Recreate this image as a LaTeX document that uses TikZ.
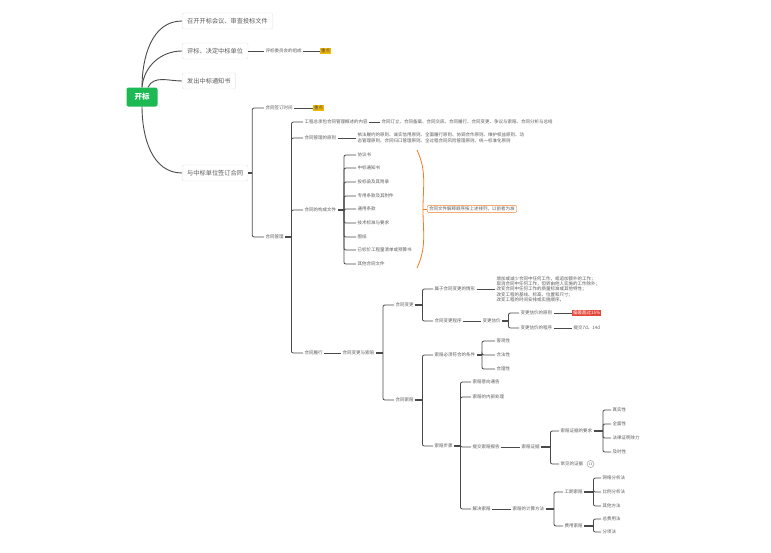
\documentclass[tikz,border=0pt]{standalone}
\usepackage{fontspec}
\setmainfont{Noto Sans CJK SC}
\usetikzlibrary{positioning}
\definecolor{rootgreen}{HTML}{1DB954}
\definecolor{boxgray}{HTML}{E3E3E3}
\definecolor{txtgray}{HTML}{5A5A5A}
\definecolor{linegray}{HTML}{4A4A4A}
\definecolor{tagyellow}{HTML}{F2B705}
\definecolor{tagred}{HTML}{E5483B}
\definecolor{noteorange}{HTML}{F47B20}
\newcommand{\fsmall}{\fontsize{4.5}{5.6}\selectfont}
\newcommand{\fork}[3]{%
  \draw[stub] (#1.east) -- ++(#2,0) coordinate (sp);
  \foreach \ch in {#3} {\draw[link] (sp) |- (\ch.west);}
}
\tikzset{
  root/.style = {fill=rootgreen, rounded corners=2pt, text=white, minimum width=31pt,
    minimum height=19pt, font=\fontsize{7.5}{8}\selectfont\bfseries},
  topic/.style = {draw=boxgray, fill=white, rounded corners=2pt, text=txtgray, anchor=west,
    inner xsep=5pt, minimum height=16pt, font=\fontsize{6.2}{7}\selectfont},
  item/.style = {text=txtgray, anchor=west, inner xsep=1.5pt, inner ysep=1pt, font=\fsmall},
  tagy/.style = {fill=tagyellow, text=black!70, anchor=west, inner sep=1pt, font=\fsmall},
  tagr/.style = {fill=tagred, text=white, anchor=west, inner sep=1pt, font=\fsmall},
  note/.style = {draw=noteorange, rounded corners=2pt, text=txtgray, anchor=west,
    inner xsep=2pt, inner ysep=1.5pt, font=\fsmall},
  curve/.style = {draw=linegray, line width=0.9pt},
  link/.style = {draw=linegray, line width=0.8pt, rounded corners=2pt},
  stub/.style = {draw=linegray, line width=1.4pt}
}
\begin{document}
\begin{tikzpicture}[x=1pt, y=-1pt]
\useasboundingbox (0,0) rectangle (771,552);

\node[root] (root) at (142,97) {开标};
\node[topic] (t1) at (182,21) {召开开标会议、审查投标文件};
\node[topic] (t2) at (182,51) {评标、决定中标单位};
\node[topic] (t3) at (182,81) {发出中标通知书};
\node[topic] (t4) at (182,173) {与中标单位签订合同};
\draw[curve] (root.north) to[out=90, in=180] (t1.west);
\draw[curve] (root.north) to[out=85, in=180] (t2.west);
\draw[curve] ([xshift=6pt]root.north) to[out=65, in=180] (t3.west);
\draw[curve] (root.south) to[out=-90, in=180] (t4.west);

\node[item] (a1) at (264,51) {评标委员会的组成};
\node[tagy] (tag1) at (320,51) {重点};
\draw[link] (t2.east) -- (a1.west);
\draw[link] (a1.east) -- (tag1.west);

\node[item] (b1) at (264,108) {合同签订时间};
\node[tagy] (tag2) at (313,108) {重点};
\node[item] (b2) at (264,237) {合同管理};
\fork{t4}{4}{b1,b2}
\draw[link] (b1.east) -- (tag2.west);

\node[item] (c1) at (303,122) {工程总承包合同管理概述的内容};
\node[item] (c2) at (303,138) {合同管理的原则};
\node[item] (c3) at (303,210) {合同的构成文件};
\node[item] (c4) at (303,353) {合同履行};
\fork{b2}{6}{c1,c2,c3,c4}
\node[item] (c1d) at (380,122) {合同订立、合同备案、合同交底、合同履行、合同变更、争议与索赔、合同分析与总结};
\node[item, align=left] (c2d) at (356,138) {依法履约的原则、诚实信用原则、全面履行原则、协调合作原则、维护权益原则、动\\态管理原则、合同归口管理原则、全过程合同风险管理原则、统一标准化原则};
\draw[link] (c1.east) -- (c1d.west);
\draw[link] (c2.east) -- (c2d.west);

\node[item] (d1) at (356,155) {协议书};
\node[item] (d2) at (356,168) {中标通知书};
\node[item] (d3) at (356,182) {投标函及其附录};
\node[item] (d4) at (356,196) {专用条款及其附件};
\node[item] (d5) at (356,209) {通用条款};
\node[item] (d6) at (356,223) {技术标准与要求};
\node[item] (d7) at (356,237) {图纸};
\node[item] (d8) at (356,250) {已标价工程量清单或预算书};
\node[item] (d9) at (356,264) {其他合同文件};
\fork{c3}{6}{d1,d2,d3,d4,d5,d6,d7,d8,d9}
\coordinate (bt) at (417,150);
\coordinate (bm) at (423,209);
\coordinate (bb) at (417,268);
\node[note] (n0) at (427,209) {合同文件解释顺序按上述排列，以前者为准};
\draw[noteorange, line width=0.8pt] (bt) to[out=-65, in=90] (bm) to[out=-90, in=65] (bb);
\draw[noteorange, line width=0.8pt] (bm) -- (n0.west);

\node[item] (e1) at (341,353) {合同变更与索赔};
\draw[link] (c4.east) -- (e1.west);
\node[item] (f1) at (394,305) {合同变更};
\node[item] (f2) at (394,400) {合同索赔};
\fork{e1}{7}{f1,f2}

\node[item] (g1) at (433,289) {属于合同变更的情形};
\node[item] (g2) at (433,321) {合同变更程序};
\fork{f1}{7}{g1,g2}
\node[item, align=left, font=\fontsize{4.5}{5.3}\selectfont] (g1d) at (495,289) {增加或减少合同中任何工作，或追加额外的工作；\\取消合同中任何工作，但转由他人实施的工作除外；\\改变合同中任何工作的质量标准或其他特性；\\改变工程的基线、标高、位置和尺寸；\\改变工程的时间安排或实施顺序。};
\draw[link] (g1.east) -- (g1d.west);
\node[item] (h1) at (481,321) {变更估价};
\draw[link] (g2.east) -- (h1.west);
\node[item] (i1) at (519,313) {变更估价的原则};
\node[item] (i2) at (519,328) {变更估价的程序};
\fork{h1}{6}{i1,i2}
\node[tagr] (tag3) at (572,313) {偏差超过15\%};
\node[item] (i2d) at (572,328) {提交7d、14d};
\draw[link] (i1.east) -- (tag3.west);
\draw[link] (i2.east) -- (i2d.west);

\node[item] (g3) at (433,355) {索赔必须符合的条件};
\node[item] (g4) at (433,446) {索赔步骤};
\fork{f2}{7}{g3,g4}
\node[item] (j1) at (495,341) {客观性};
\node[item] (j2) at (495,355) {合法性};
\node[item] (j3) at (495,369) {合理性};
\fork{g3}{5}{j1,j2,j3}

\node[item] (k1) at (471,382) {索赔意向通告};
\node[item] (k2) at (471,397) {索赔的内部处理};
\node[item] (k3) at (471,447) {提交索赔报告};
\node[item] (k4) at (471,509) {解决索赔};
\fork{g4}{6}{k1,k2,k3,k4}

\node[item] (l1) at (520,447) {索赔证据};
\draw[link] (k3.east) -- (l1.west);
\node[item] (m1) at (559,431) {索赔证据的要求};
\node[item] (m2) at (559,464) {常见的证据};
\fork{l1}{9}{m1,m2}
\node[draw=txtgray!70, circle, inner sep=0.6pt, minimum size=7pt, text=txtgray,
  font=\fontsize{3.2}{3.5}\selectfont, right=2pt of m2] (m2i) {13};
\node[item] (p1) at (611,410) {真实性};
\node[item] (p2) at (611,424) {全面性};
\node[item] (p3) at (611,438) {法律证明效力};
\node[item] (p4) at (611,452) {及时性};
\fork{m1}{9}{p1,p2,p3,p4}

\node[item] (l2) at (511,509) {索赔的计算方法};
\draw[link] (k4.east) -- (l2.west);
\node[item] (q1) at (563,492) {工期索赔};
\node[item] (q2) at (563,526) {费用索赔};
\fork{l2}{8}{q1,q2}
\node[item] (r1) at (601,478) {网络分析法};
\node[item] (r2) at (601,492) {比例分析法};
\node[item] (r3) at (601,506) {其他方法};
\fork{q1}{9}{r1,r2,r3}
\node[item] (s1) at (601,519) {总费用法};
\node[item] (s2) at (601,532) {分项法};
\fork{q2}{9}{s1,s2}
\end{tikzpicture}
\end{document}
